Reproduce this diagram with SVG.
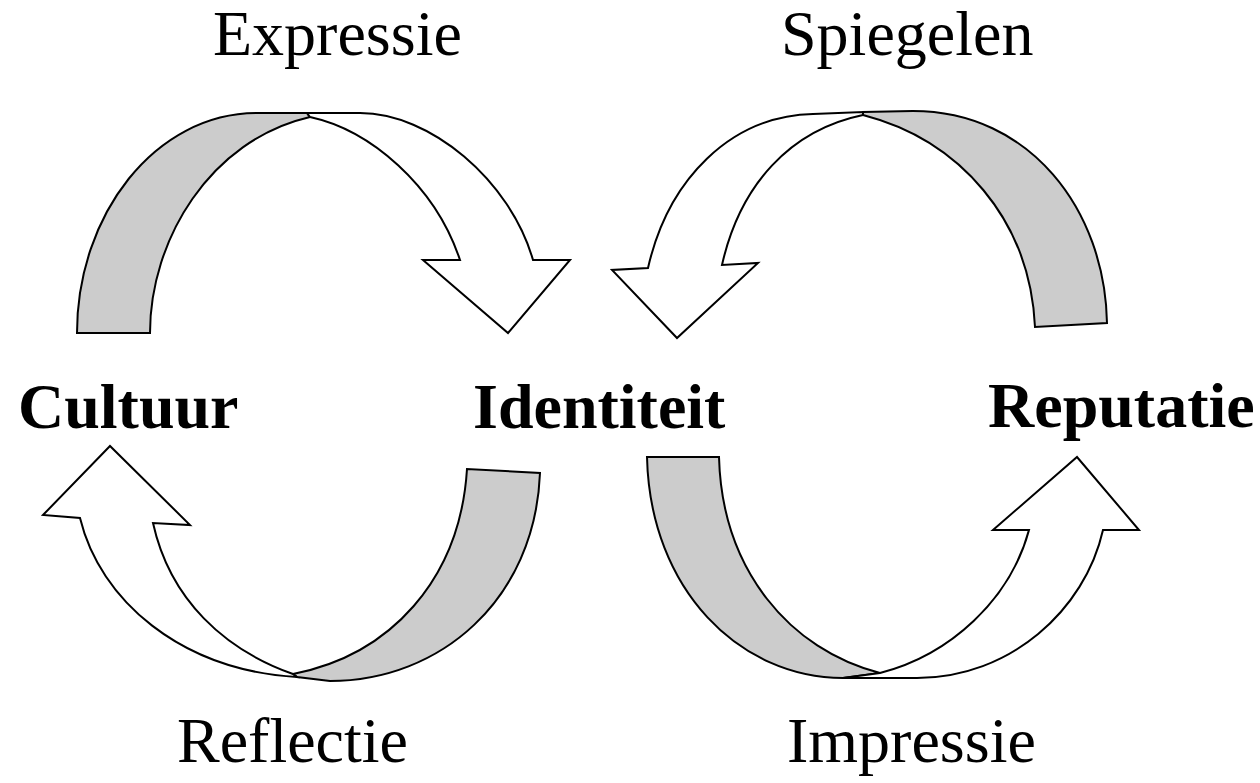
<svg xmlns="http://www.w3.org/2000/svg" width="1260" height="783" viewBox="0 0 1260 783">
<style>
.band{stroke:#000;stroke-width:2;stroke-linejoin:miter}
.g{fill:#cccccc}
.w{fill:#ffffff}
.lbl{font-family:"Liberation Serif","Times New Roman",serif;font-size:64px;fill:#000}
.node{font-family:"Liberation Serif","Times New Roman",serif;font-size:64px;font-weight:bold;fill:#000}
</style>
<rect width="1260" height="783" fill="#ffffff"/>
<g id="nodes">
<g id="cultuur"><text class="node" x="18" y="428">Cultuur</text></g>
<g id="identiteit"><text class="node" x="473" y="428">Identiteit</text></g>
<g id="reputatie"><text class="node" x="988" y="427">Reputatie</text></g>
</g>
<g id="connectors">
<g id="expressie">
<path class="band g" d="M77,333 C77,215 155,113 257,113 L307,113 L310,117 C210,140 150,240 150,333 Z"/>
<path class="band w" d="M307,113 L360,113 C430,113 510,180 533,260 L570,260 L508,333 L423,260 L460,260 C435,185 370,130 310,117 Z"/>
<text class="lbl" x="213" y="55">Expressie</text>
</g>
<g id="spiegelen">
<path class="band g" d="M1107,323 C1105,210 1030,111 913,111 L863,112 L863,115 C960,140 1030,220 1035,327 Z"/>
<path class="band w" d="M863,115 L863,112 L813,114 C730,116 668,180 648,268 L612,270 L677,338 L758,263 L722,265 C740,185 790,130 863,115 Z"/>
<text class="lbl" x="781" y="55">Spiegelen</text>
</g>
<g id="reflectie">
<path class="band g" d="M540,473 C535,600 440,681 330,681 L297,677 L293,674 C390,655 460,580 467,469 Z"/>
<path class="band w" d="M293,674 L297,677 C180,670 100,600 80,518 L43,515 L110,446 L190,525 L153,523 C170,600 225,650 293,674 Z"/>
<text class="lbl" x="177" y="762">Reflectie</text>
</g>
<g id="impressie">
<path class="band g" d="M647,457 C650,590 740,678 843,678 L880,673 C790,650 722,570 719,457 Z"/>
<path class="band w" d="M880,673 L843,678 L917,678 C1010,678 1085,610 1103,530 L1139,530 L1077,457 L993,530 L1029,530 C1010,600 950,655 880,673 Z"/>
<text class="lbl" x="787" y="762">Impressie</text>
</g>
</g>
</svg>
